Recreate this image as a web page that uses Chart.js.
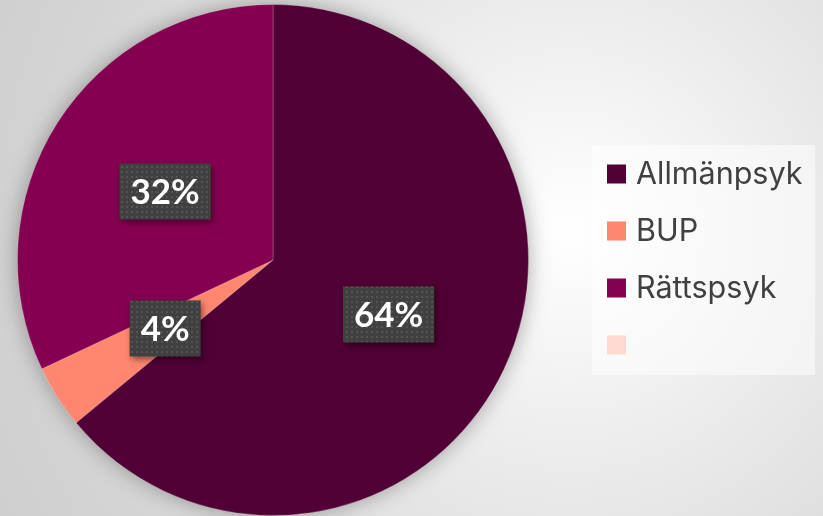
<!DOCTYPE html>
<html>
<head>
<meta charset="utf-8">
<script src="https://cdn.jsdelivr.net/npm/chart.js@4"></script>
<style>
  html, body { margin: 0; padding: 0; }
  body {
    width: 823px; height: 516px; overflow: hidden;
    background: radial-gradient(circle at 570px 230px, #ffffff 0px, #eeeeee 200px, #d4d4d4 520px, #cccccc 700px);
  }
  canvas { display: block; }
</style>
</head>
<body>
<canvas id="pieChart" width="823" height="516"></canvas>
<script>
const labels = ['Allmänpsyk', 'BUP', 'Rättspsyk', ''];
const values = [64, 4, 32, 0];
const colors = ['#500034', '#ff8770', '#850050', '#ffd9d2'];

// dotted dark pattern for the value boxes
function makePattern(ctx) {
  const p = document.createElement('canvas');
  p.width = 5; p.height = 5;
  const pc = p.getContext('2d');
  pc.fillStyle = '#404040';
  pc.fillRect(0, 0, 5, 5);
  pc.fillStyle = '#545454';
  pc.fillRect(1, 1, 2, 2);
  return ctx.createPattern(p, 'repeat');
}

const pieShadow = {
  id: 'pieShadow',
  beforeDatasetsDraw(chart) {
    const arc = chart.getDatasetMeta(0).data[0];
    if (!arc) return;
    const ctx = chart.ctx;
    ctx.save();
    ctx.shadowColor = 'rgba(0,0,0,0.35)';
    ctx.shadowBlur = 22;
    ctx.fillStyle = colors[0];
    ctx.beginPath();
    ctx.arc(arc.x, arc.y, arc.outerRadius - 1, 0, Math.PI * 2);
    ctx.fill();
    ctx.restore();
  }
};

const valueBoxes = {
  id: 'valueBoxes',
  afterDatasetsDraw(chart) {
    const ctx = chart.ctx;
    const total = values.reduce((a, b) => a + b, 0);
    const pat = makePattern(ctx);
    ctx.save();
    ctx.font = 'bold 35px Lato, Inter, sans-serif';
    ctx.textAlign = 'center';
    ctx.textBaseline = 'middle';
    chart.getDatasetMeta(0).data.forEach((arc, i) => {
      if (!values[i]) return;
      const txt = Math.round(values[i] / total * 100) + '%';
      const pos = arc.tooltipPosition();
      const w = ctx.measureText(txt).width + 22;
      const h = 56;
      ctx.save();
      ctx.shadowColor = 'rgba(0,0,0,0.45)';
      ctx.shadowBlur = 6;
      ctx.shadowOffsetX = 2;
      ctx.shadowOffsetY = 3;
      ctx.fillStyle = pat;
      ctx.fillRect(pos.x - w / 2, pos.y - h / 2, w, h);
      ctx.restore();
      ctx.fillStyle = '#ffffff';
      ctx.fillText(txt, pos.x, pos.y + 1);
    });
    ctx.restore();
  }
};

const sideLegend = {
  id: 'sideLegend',
  afterDraw(chart) {
    const ctx = chart.ctx;
    ctx.save();
    ctx.fillStyle = 'rgba(255,255,255,0.5)';
    ctx.fillRect(592, 145, 223, 230);
    ctx.font = '30.5px Inter, "DejaVu Sans", sans-serif';
    ctx.textBaseline = 'middle';
    labels.forEach((lab, i) => {
      const y = 174 + i * 57;
      ctx.fillStyle = colors[i];
      ctx.fillRect(607, y - 9.5, 19, 19);
      ctx.fillStyle = '#404040';
      ctx.fillText(lab, 636, y + 1);
    });
    ctx.restore();
  }
};

new Chart(document.getElementById('pieChart'), {
  type: 'pie',
  data: {
    labels: labels,
    datasets: [{
      data: values,
      backgroundColor: colors,
      borderColor: 'rgba(255,255,255,0.2)',
      borderWidth: 1
    }]
  },
  options: {
    responsive: false,
    animation: false,
    layout: { padding: { left: 17, top: 4, right: 294, bottom: 0 } },
    plugins: {
      legend: { display: false },
      tooltip: { enabled: false }
    }
  },
  plugins: [pieShadow, valueBoxes, sideLegend]
});
</script>
</body>
</html>
